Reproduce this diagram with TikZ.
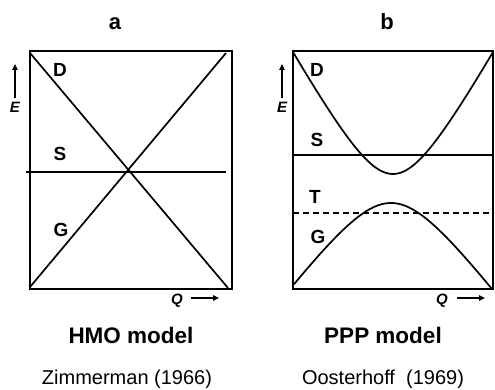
\documentclass[tikz,border=0pt]{standalone}
\usepackage{fontspec}
\setmainfont{Liberation Sans}
\usetikzlibrary{arrows.meta}
\tikzset{
  frame/.style={line width=2.2pt},
  level/.style={line width=1.7pt},
  lbl/.style={font=\fontsize{19}{21}\selectfont\bfseries, inner sep=0pt},
  axlbl/.style={font=\fontsize{15}{16}\selectfont\bfseries\itshape, inner sep=0pt, anchor=base},
  axarrow/.style={line width=1.4pt, -{Triangle[length=6pt,width=5.5pt]}},
  title/.style={font=\fontsize{22}{24}\selectfont\bfseries, inner sep=0pt, anchor=base},
  model/.style={font=\fontsize{22.5}{24}\selectfont\bfseries, inner sep=0pt, anchor=base},
  cite/.style={font=\fontsize{20}{22}\selectfont, inner sep=0pt, anchor=base}
}
\begin{document}
\begin{tikzpicture}[x=1pt,y=-1pt]
\useasboundingbox (0,0) rectangle (495,390);
% ---------- panel a ----------
\node[title] (ta) at (115,30) {a};
\draw[frame] (30,51) rectangle (232,289);
\coordinate (aTL) at (30,53);
\coordinate (aBR) at (228,288);
\coordinate (aBL) at (30,287);
\coordinate (aTR) at (226,53);
\coordinate (aHL) at (26,172);
\coordinate (aHR) at (226,172);
\draw[level] (aTL) -- (aBR);
\draw[level] (aBL) -- (aTR);
\draw[level] (aHL) -- (aHR);
\node[lbl] (aD) at (60,70) {D};
\node[lbl] (aS) at (60,154) {S};
\node[lbl] (aG) at (61,230) {G};
\node[axlbl] (aE) at (15,113) {E};
\coordinate (aE1) at (15,98);
\coordinate (aE2) at (15,64);
\draw[axarrow] (aE1) -- (aE2);
\node[axlbl] (aQ) at (177,304) {Q};
\coordinate (aQ1) at (191,298);
\coordinate (aQ2) at (219,298);
\draw[axarrow] (aQ1) -- (aQ2);
\node[model] (ma) at (131,343) {HMO model};
\node[cite] (ca) at (127,384) {Zimmerman (1966)};
% ---------- panel b ----------
\node[title] (tb) at (387,30) {b};
\draw[frame] (293,51) rectangle (493,289);
\coordinate (bSL) at (293,155);
\coordinate (bSR) at (493,155);
\draw[level] (bSL) -- (bSR);
\coordinate (bTL) at (293,213);
\coordinate (bTR) at (493,213);
\draw[level, dash pattern=on 6pt off 4pt] (bTL) -- (bTR);
% upper curve (avoided crossing, upper branch)
\draw[level] plot[domain=-100:100, samples=81, smooth]
  ({393+\x}, {174 + 73.5 - 10*sqrt(7.35*7.35 + 3.28*(\x/10)*(\x/10))});
% lower curve
\draw[level] plot[domain=-97:101, samples=81, smooth]
  ({391+\x}, {203 - 62.4 + 10*sqrt(6.24*6.24 + 1.78*(\x/10)*(\x/10))});
\node[lbl] (bD) at (317,70) {D};
\node[lbl] (bS) at (317,140) {S};
\node[lbl] (bT) at (315,197) {T};
\node[lbl] (bG) at (318,237) {G};
\node[axlbl] (bE) at (282,113) {E};
\coordinate (bE1) at (282,98);
\coordinate (bE2) at (282,64);
\draw[axarrow] (bE1) -- (bE2);
\node[axlbl] (bQ) at (442,304) {Q};
\coordinate (bQ1) at (457,298);
\coordinate (bQ2) at (485,298);
\draw[axarrow] (bQ1) -- (bQ2);
\node[model] (mb) at (383,343) {PPP model};
\node[cite] (cb) at (383,384) {Oosterhoff\ \ (1969)};
\end{tikzpicture}
\end{document}
